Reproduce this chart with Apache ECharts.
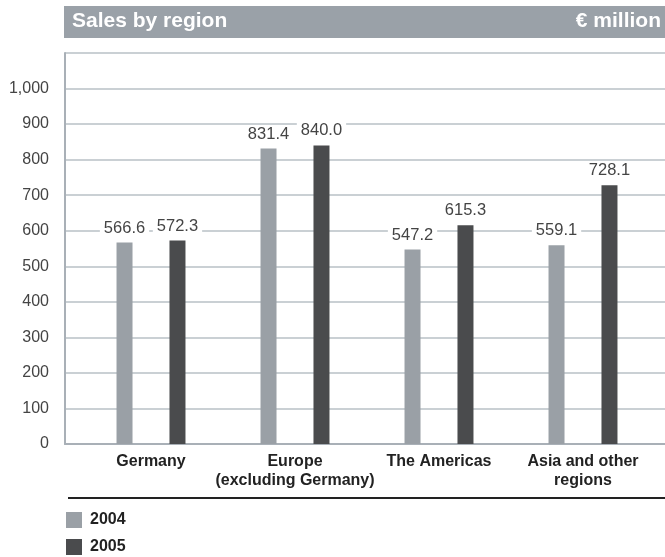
<!DOCTYPE html>
<html>
<head>
<meta charset="utf-8">
<script src="https://cdn.jsdelivr.net/npm/echarts@6/dist/echarts.min.js"></script>
<style>html,body{margin:0;padding:0;background:#fff}#c{width:665px;height:557px}</style>
</head>
<body>
<div id="c"></div>
<script>
const categories = ['Germany', 'Europe\n(excluding Germany)', 'The Americas', 'Asia and other\nregions'];
const sales2004 = [566.6, 831.4, 547.2, 559.1];
const sales2005 = [572.3, 840.0, 615.3, 728.1];
const seriesNames = ['2004', '2005'];
const yTicks = { min: 0, max: 1100, interval: 100 };

const chart = echarts.init(document.getElementById('c'), null, { renderer: 'canvas' });
const FONT = '"Liberation Sans", Arial, Helvetica, sans-serif';
const labelStyle = {
  show: true, position: 'top', distance: 6,
  color: '#444', fontFamily: FONT, fontSize: 16.5,
  backgroundColor: '#fff', padding: [0, 4, 0, 4],
  formatter: p => p.value.toFixed(1)
};
chart.setOption({
  animation: false,
  textStyle: { fontFamily: FONT },
  graphic: [
    { type: 'rect', shape: { x: 64, y: 6, width: 601, height: 32 }, style: { fill: '#9aa1a8' }, z: 0 },
    { type: 'text', left: 72, top: 11, style: { text: 'Sales by region', fill: '#fff', font: 'bold 21px ' + FONT } },
    { type: 'text', right: 4, top: 11, style: { text: '€ million', fill: '#fff', font: 'bold 21px ' + FONT } },
    { type: 'line', shape: { x1: 68, y1: 498, x2: 665, y2: 498 }, style: { stroke: '#222', lineWidth: 2 } }
  ],
  legend: {
    orient: 'vertical', left: 66, top: 512, padding: 0, itemWidth: 16, itemHeight: 16, itemGap: 11,
    icon: 'rect',
    textStyle: { color: '#222', fontSize: 16, fontWeight: 'bold', fontFamily: FONT, padding: [0, 0, 0, 3] },
    data: seriesNames
  },
  grid: [
    { left: 65, right: 0, top: 53, bottom: 113 },
    { left: 79, right: 10, top: 53, bottom: 113 }
  ],
  xAxis: [
    { type: 'value', gridIndex: 0, min: 0, max: 1, axisLabel: { show: false }, axisTick: { show: false }, splitLine: { show: false },
      axisLine: { show: true, lineStyle: { color: '#a9b0b7', width: 2 } } },
    { type: 'category', gridIndex: 1, data: categories, axisLine: { show: false }, axisTick: { show: false },
      axisLabel: { color: '#222', fontSize: 16, fontWeight: 'bold', fontFamily: FONT, lineHeight: 19, margin: 8, interval: 0 } }
  ],
  yAxis: [
    { type: 'value', gridIndex: 0, min: yTicks.min, max: yTicks.max, interval: yTicks.interval,
      axisLine: { show: true, lineStyle: { color: '#a9b0b7', width: 2 } }, axisTick: { show: false },
      axisLabel: { color: '#444', fontSize: 16, fontFamily: FONT, margin: 16,
        formatter: v => v === yTicks.max ? '' : v.toLocaleString('en-US') },
      splitLine: { show: true, lineStyle: { color: '#b9c0c6', width: 1.5 } } },
    { type: 'value', gridIndex: 1, min: yTicks.min, max: yTicks.max, show: false, splitLine: { show: false } }
  ],
  series: [
    { name: seriesNames[0], type: 'bar', xAxisIndex: 1, yAxisIndex: 1, data: sales2004, barWidth: 16, barGap: '231%',
      itemStyle: { color: '#9aa0a6' }, label: labelStyle },
    { name: seriesNames[1], type: 'bar', xAxisIndex: 1, yAxisIndex: 1, data: sales2005, barWidth: 16, barGap: '231%',
      itemStyle: { color: '#4a4b4d' }, label: labelStyle }
  ]
});
</script>
</body>
</html>
